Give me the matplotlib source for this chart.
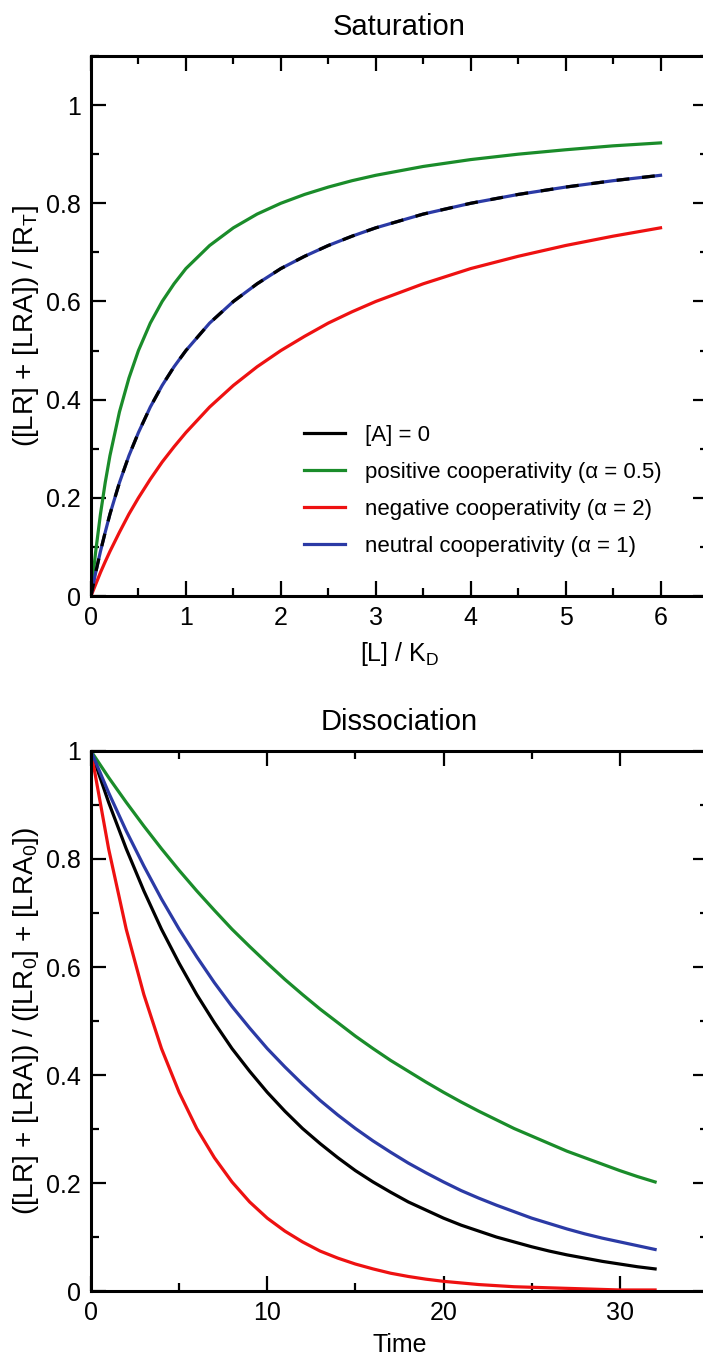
import numpy as np
import matplotlib
matplotlib.use('Agg')
import matplotlib.pyplot as plt
from matplotlib.lines import Line2D
from matplotlib.ticker import MultipleLocator, FormatStrFormatter

plt.rcParams['font.family'] = ['Liberation Sans', 'DejaVu Sans']
plt.rcParams['mathtext.fontset'] = 'custom'
plt.rcParams['mathtext.rm'] = 'Liberation Sans'
plt.rcParams['mathtext.it'] = 'Liberation Sans'

# Saturation: [L]/K_D and bound fraction
L_kd = [0, 0.025, 0.05, 0.1, 0.15, 0.2, 0.3, 0.4, 0.5, 0.625, 0.75, 0.875, 1, 1.25,
        1.5, 1.75, 2, 2.25, 2.5, 2.75, 3, 3.5, 4, 4.5, 5, 5.5, 6]
sat_none = [0, 0.024, 0.048, 0.091, 0.13, 0.167, 0.231, 0.286, 0.333, 0.385, 0.429,
            0.467, 0.5, 0.556, 0.6, 0.636, 0.667, 0.692, 0.714, 0.733, 0.75, 0.778,
            0.8, 0.818, 0.833, 0.846, 0.857]
sat_pos = [0, 0.048, 0.091, 0.167, 0.231, 0.286, 0.375, 0.444, 0.5, 0.556, 0.6,
           0.636, 0.667, 0.714, 0.75, 0.778, 0.8, 0.818, 0.833, 0.846, 0.857, 0.875,
           0.889, 0.9, 0.909, 0.917, 0.923]
sat_neg = [0, 0.012, 0.024, 0.048, 0.07, 0.091, 0.13, 0.167, 0.2, 0.238, 0.273,
           0.304, 0.333, 0.385, 0.429, 0.467, 0.5, 0.529, 0.556, 0.579, 0.6, 0.636,
           0.667, 0.692, 0.714, 0.733, 0.75]
sat_neu = [0, 0.024, 0.048, 0.091, 0.13, 0.167, 0.231, 0.286, 0.333, 0.385, 0.429,
           0.467, 0.5, 0.556, 0.6, 0.636, 0.667, 0.692, 0.714, 0.733, 0.75, 0.778,
           0.8, 0.818, 0.833, 0.846, 0.857]

# Dissociation: time course
t = list(range(0, 33))
dis_none = [1, 0.905, 0.819, 0.741, 0.67, 0.607, 0.549, 0.497, 0.449, 0.407, 0.368,
            0.333, 0.301, 0.273, 0.247, 0.223, 0.202, 0.183, 0.165, 0.15, 0.135,
            0.122, 0.111, 0.1, 0.091, 0.082, 0.074, 0.067, 0.061, 0.055, 0.05,
            0.045, 0.041]
dis_pos = [1, 0.951, 0.905, 0.861, 0.819, 0.779, 0.741, 0.705, 0.67, 0.638, 0.607,
           0.577, 0.549, 0.522, 0.497, 0.472, 0.449, 0.427, 0.407, 0.387, 0.368,
           0.35, 0.333, 0.317, 0.301, 0.287, 0.273, 0.259, 0.247, 0.235, 0.223,
           0.212, 0.202]
dis_neg = [1, 0.819, 0.67, 0.549, 0.449, 0.368, 0.301, 0.247, 0.202, 0.165, 0.135,
           0.111, 0.091, 0.074, 0.061, 0.05, 0.041, 0.033, 0.027, 0.022, 0.018,
           0.015, 0.012, 0.01, 0.008, 0.007, 0.006, 0.005, 0.004, 0.003, 0.002,
           0.002, 0.002]
dis_neu = [1, 0.923, 0.852, 0.787, 0.726, 0.67, 0.619, 0.571, 0.527, 0.487, 0.449,
           0.415, 0.383, 0.353, 0.326, 0.301, 0.278, 0.257, 0.237, 0.219, 0.202,
           0.186, 0.172, 0.159, 0.147, 0.135, 0.125, 0.115, 0.106, 0.098, 0.091,
           0.084, 0.077]

labels = ['[A] = 0', 'positive cooperativity (α = 0.5)',
          'negative cooperativity (α = 2)', 'neutral cooperativity (α = 1)']
c_black, c_green, c_red, c_blue = 'black', '#1a8c2a', '#ee1111', '#2b3aa5'
lw = 2.3

fig = plt.figure(figsize=(7.03, 13.59), dpi=100)
ax1 = fig.add_axes([0.1294, 0.5614, 0.8777, 0.3974])
ax2 = fig.add_axes([0.1294, 0.05, 0.8777, 0.3974])


def style(ax):
    for s in ax.spines.values():
        s.set_linewidth(2.2)
    ax.tick_params(which='both', direction='in', top=True, right=True,
                   width=1.6, labelsize=18, pad=7)
    ax.tick_params(which='major', length=11)
    ax.tick_params(which='minor', length=6)
    ax.yaxis.set_major_locator(MultipleLocator(0.2))
    ax.yaxis.set_minor_locator(MultipleLocator(0.1))
    ax.yaxis.set_major_formatter(FormatStrFormatter('%g'))
    ax.xaxis.set_major_formatter(FormatStrFormatter('%g'))


# top panel
ax1.plot(L_kd, sat_pos, color=c_green, lw=lw)
ax1.plot(L_kd, sat_neg, color=c_red, lw=lw)
ax1.plot(L_kd, sat_neu, color=c_blue, lw=lw)
ax1.plot(L_kd, sat_none, color=c_black, lw=lw, dashes=(4, 4))
ax1.set_xlim(0, 6.5)
ax1.set_ylim(0, 1.1)
ax1.xaxis.set_major_locator(MultipleLocator(1))
ax1.xaxis.set_minor_locator(MultipleLocator(0.5))
style(ax1)
ax1.set_title('Saturation', fontsize=21, pad=15)
ax1.set_xlabel('[L] / K$_\\mathregular{D}$', fontsize=18, labelpad=7)
ax1.set_ylabel('([LR] + [LRA]) / [R$_\\mathregular{T}$]', fontsize=20, labelpad=4)

handles = [Line2D([], [], color=c, lw=lw) for c in (c_black, c_green, c_red, c_blue)]
ax1.legend(handles, labels, loc='center left', bbox_to_anchor=(0.345, 0.195),
           frameon=False, fontsize=16, handlelength=1.85, handletextpad=0.9,
           labelspacing=0.72, borderpad=0, borderaxespad=0)

# bottom panel
ax2.plot(t, dis_none, color=c_black, lw=lw)
ax2.plot(t, dis_pos, color=c_green, lw=lw)
ax2.plot(t, dis_neg, color=c_red, lw=lw)
ax2.plot(t, dis_neu, color=c_blue, lw=lw)
ax2.set_xlim(0, 35)
ax2.set_ylim(0, 1)
ax2.xaxis.set_major_locator(MultipleLocator(10))
ax2.xaxis.set_minor_locator(MultipleLocator(5))
style(ax2)
ax2.set_title('Dissociation', fontsize=21, pad=15)
ax2.set_xlabel('Time', fontsize=18, labelpad=6)
ax2.set_ylabel('([LR] + [LRA]) / ([LR$_\\mathregular{0}$] + [LRA$_\\mathregular{0}$])',
               fontsize=20, labelpad=4)

fig.savefig('out.png', dpi=100)
